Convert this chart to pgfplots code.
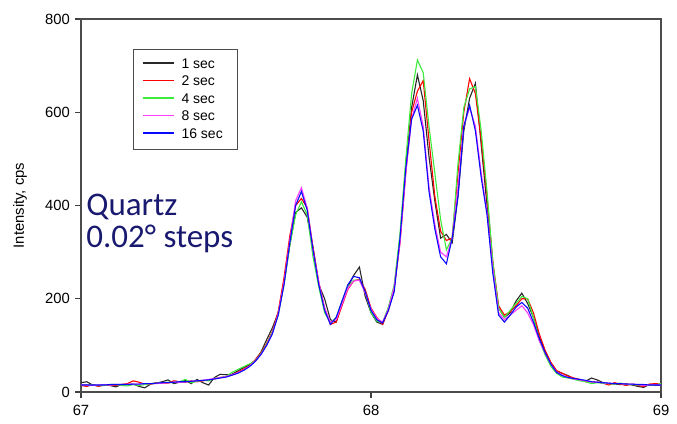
\documentclass[border=0pt]{standalone}
\usepackage{fontspec}
\setmainfont{Liberation Sans}
\newfontfamily\carlito{Carlito}
\usepackage{pgfplots}
\pgfplotsset{compat=1.18}
\usepackage{pgfplotstable}
\definecolor{colone}{RGB}{40,40,40}
\definecolor{coltwo}{RGB}{255,0,0}
\definecolor{colfour}{RGB}{60,235,60}
\definecolor{coleight}{RGB}{255,60,255}
\definecolor{colsixteen}{RGB}{10,10,255}
\definecolor{navytxt}{RGB}{25,25,112}
\newcommand{\legline}[1]{\textcolor{#1}{\rule[2.2pt]{15.5pt}{0.65pt}}}
\pgfplotstableread{
x s1 s2 s4 s8 s16
67.00 20 14 15 16 15
67.02 22 12 16 15 15
67.04 15 16 15 14 15
67.06 13 12 14 15 15
67.08 15 15 14 16 15
67.10 14 15 16 15 16
67.12 11 14 16 16 16
67.14 16 16 14 16 16
67.16 16 18 13 17 16
67.18 17 24 16 17 17
67.20 12 21 14 17 17
67.22 9 17 16 18 18
67.24 17 17 18 18 18
67.26 19 20 19 18 19
67.28 22 19 20 19 20
67.30 26 19 21 20 20
67.32 18 24 20 21 21
67.34 21 22 22 21 22
67.36 25 21 27 22 22
67.38 18 24 20 23 23
67.40 27 22 23 24 24
67.42 20 24 25 25 25
67.44 15 26 24 27 26
67.46 31 28 29 29 28
67.48 38 31 31 31 30
67.50 37 33 33 33 32
67.52 38 36 42 37 36
67.54 45 42 48 41 40
67.56 52 49 54 47 46
67.58 58 56 60 55 54
67.60 68 68 66 66 65
67.62 85 84 82 80 80
67.64 112 104 102 100 100
67.66 138 130 128 126 125
67.68 170 172 165 168 165
67.70 235 245 230 235 230
67.72 315 335 315 325 320
67.74 385 400 380 410 400
67.76 395 415 408 438 430
67.78 375 395 380 395 390
67.80 310 310 290 305 305
67.82 230 235 225 235 230
67.84 200 180 170 180 175
67.86 155 145 148 150 145
67.88 150 150 160 155 160
67.90 190 185 195 188 195
67.92 225 220 225 222 230
67.94 250 238 240 238 248
67.96 268 242 240 240 245
67.98 205 220 215 212 215
68.00 170 180 170 178 175
68.02 150 160 152 158 155
68.04 145 145 150 150 148
68.06 180 175 182 178 175
68.08 225 222 230 225 215
68.10 330 320 340 320 330
68.12 480 470 500 470 480
68.14 610 600 640 585 585
68.16 680 645 712 630 615
68.18 625 668 685 570 560
68.20 505 540 570 440 430
68.22 410 420 470 360 350
68.24 330 345 370 300 290
68.26 338 325 305 290 275
68.28 320 330 330 330 330
68.30 420 470 490 440 420
68.32 560 600 610 570 570
68.34 630 672 650 610 615
68.36 662 640 655 570 560
68.38 530 540 560 470 460
68.40 400 420 430 385 380
68.42 270 280 280 265 255
68.44 180 185 180 170 165
68.46 160 165 160 155 150
68.48 170 172 175 165 165
68.50 195 185 190 175 182
68.52 212 200 205 185 192
68.54 190 200 200 170 180
68.56 160 170 160 145 150
68.58 118 125 112 110 115
68.60 88 90 80 84 85
68.62 62 64 55 60 60
68.64 44 46 40 43 42
68.66 40 40 32 36 35
68.68 35 34 30 31 31
68.70 28 30 27 28 29
68.72 26 27 24 26 27
68.74 23 22 22 24 25
68.76 30 22 18 22 22
68.78 26 21 20 21 21
68.80 20 19 19 20 20
68.82 18 15 18 19 19
68.84 17 20 17 18 18
68.86 16 17 19 18 18
68.88 18 14 16 17 17
68.90 15 17 16 17 17
68.92 12 14 15 16 16
68.94 10 12 16 14 16
68.96 16 17 14 15 15
68.98 14 18 15 16 15
69.00 15 17 18 15 15
}\data
\begin{document}
\begin{tikzpicture}
\begin{axis}[name=ax, scale only axis, width=290pt, height=186.5pt,
 xmin=67, xmax=69, ymin=0, ymax=800,
 xtick={67,68,69}, ytick={0,200,400,600,800},
 tick align=outside, tick pos=left, major tick length=3pt,
 axis line style={draw=black!70, line width=0.75pt},
 every tick/.style={black!75, line width=0.6pt},
 tick label style={font=\fontsize{7.4}{8}\selectfont},
 yticklabel style={xshift=1pt},
 /pgf/number format/assume math mode=true,
 ylabel={Intensity, cps},
 ylabel style={font=\fontsize{7.4}{8}\selectfont, at={(axis description cs:-0.105,0.5)}, anchor=center},
]
\addplot[color=colone, line width=0.55pt] table[x=x,y=s1]{\data};
\addplot[color=coltwo, line width=0.55pt] table[x=x,y=s2]{\data};
\addplot[color=colfour, line width=0.55pt] table[x=x,y=s4]{\data};
\addplot[color=coleight, line width=0.55pt] table[x=x,y=s8]{\data};
\addplot[color=colsixteen, line width=0.55pt] table[x=x,y=s16]{\data};
\node[anchor=north west, draw=black!70, line width=0.5pt, fill=white, inner xsep=4.5pt, inner ysep=3.2pt,
  font=\fontsize{7}{8.75}\selectfont] at (axis description cs:0.0897,0.9196) {%
  \begin{tabular}{@{}l@{\hspace{4pt}}l@{\hspace{3pt}}}
  \legline{colone} & 1 sec\\
  \legline{coltwo} & 2 sec\\
  \legline{colfour} & 4 sec\\
  \legline{coleight} & 8 sec\\
  \legline{colsixteen} & 16 sec
  \end{tabular}};
\node[anchor=base west, text=navytxt, font=\carlito\fontsize{16.5}{18}\selectfont, inner sep=0pt] at (axis description cs:0.0086,0.4745) {Quartz};
\node[anchor=base west, text=navytxt, font=\carlito\fontsize{16.5}{18}\selectfont, inner sep=0pt] at (axis description cs:0.0086,0.3887) {0.02° steps};
\end{axis}
\pgfresetboundingbox
\path[use as bounding box] ([shift={(-40.5pt,-15.5pt)}]ax.south west) rectangle ([shift={(8pt,9.5pt)}]ax.north east);
\end{tikzpicture}
\end{document}
